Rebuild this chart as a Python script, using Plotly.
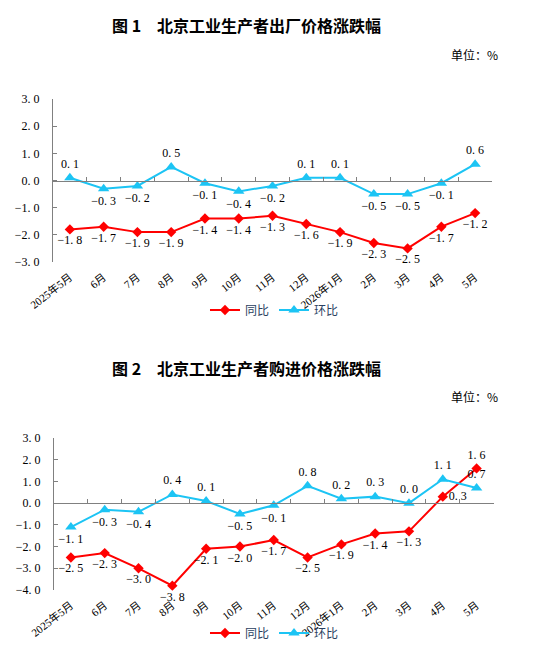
import plotly.graph_objects as go

months = ["2025年5月", "6月", "7月", "8月", "9月", "10月", "11月", "12月",
          "2026年1月", "2月", "3月", "4月", "5月"]

# Figure 1: 出厂价格
ppi_yoy = [-1.8, -1.7, -1.9, -1.9, -1.4, -1.4, -1.3, -1.6, -1.9, -2.3, -2.5, -1.7, -1.2]
ppi_mom = [0.1, -0.3, -0.2, 0.5, -0.1, -0.4, -0.2, 0.1, 0.1, -0.5, -0.5, -0.1, 0.6]

# Figure 2: 购进价格
ipi_yoy = [-2.5, -2.3, -3.0, -3.8, -2.1, -2.0, -1.7, -2.5, -1.9, -1.4, -1.3, 0.3, 1.6]
ipi_mom = [-1.1, -0.3, -0.4, 0.4, 0.1, -0.5, -0.1, 0.8, 0.2, 0.3, 0.0, 1.1, 0.7]

y1_ticks = [3.0, 2.0, 1.0, 0.0, -1.0, -2.0, -3.0]
y2_ticks = [3.0, 2.0, 1.0, 0.0, -1.0, -2.0, -3.0, -4.0]

RED = "#FF0000"
BLUE = "#1CC4F4"
GRAY = "#808080"
NUM_FONT = "Liberation Serif, DejaVu Serif, serif"
CJK_FONT = "Liberation Serif, Noto Sans CJK SC, serif"


def fmt(v):
    s = f"{v:.1f}".replace(".", ". ")
    return s.replace("-", "−")


W, H = 533, 653
# domains (paper fractions)
x1_dom = [53 / W, 492 / W]
y1_dom = [1 - 262 / H, 1 - 99 / H]
x2_dom = [54 / W, 493.5 / W]
y2_dom = [1 - 590 / H, 1 - 438 / H]

fig = go.Figure()


def add_chart(yoy, mom, xa, ya, xz, legend, yoy_pos, mom_pos):
    fig.add_trace(go.Scatter(
        x=months, y=yoy, name="同比", mode="lines+markers+text",
        line=dict(color=RED, width=2),
        marker=dict(symbol="diamond", size=8, color=RED),
        text=[fmt(v) for v in yoy], textposition=yoy_pos,
        textfont=dict(family=NUM_FONT, size=12, color="#000000"),
        xaxis=xa, yaxis=ya, legend=legend, cliponaxis=False))
    fig.add_trace(go.Scatter(
        x=months, y=mom, name="环比", mode="lines+markers+text",
        line=dict(color=BLUE, width=2),
        marker=dict(symbol="triangle-up", size=10, color=BLUE),
        text=[fmt(v) for v in mom], textposition=mom_pos,
        textfont=dict(family=NUM_FONT, size=12, color="#000000"),
        xaxis=xa, yaxis=ya, legend=legend, cliponaxis=False))
    # invisible trace carrying the zero-line axis
    fig.add_trace(go.Scatter(
        x=months, y=[None] * len(months), mode="lines", showlegend=False,
        hoverinfo="skip", xaxis=xz, yaxis=ya))


pos_mom1 = ["top center" if v > 0 else "bottom center" for v in ppi_mom]
pos_yoy1 = ["bottom center"] * len(ppi_yoy)
pos_mom2 = ["top center" if v >= 0 else "bottom center" for v in ipi_mom]
pos_yoy2 = ["bottom center" if v < 0 else "top center" for v in ipi_yoy]
pos_yoy2[11] = "middle right"

add_chart(ppi_yoy, ppi_mom, "x", "y", "x3", "legend", pos_yoy1, pos_mom1)
add_chart(ipi_yoy, ipi_mom, "x2", "y2", "x4", "legend2", pos_yoy2, pos_mom2)

cat_range = [-0.5, len(months) - 0.5]


def xmain(dom, anchor):
    return dict(domain=dom, anchor=anchor, type="category", categoryorder="array",
                categoryarray=months, range=cat_range, showline=False, ticks="",
                showgrid=False, zeroline=False, tickangle=-38, automargin=False,
                ticklabelstandoff=6,
                tickfont=dict(family=CJK_FONT, size=11, color="#000000"))


def xzero(dom, over, pos):
    return dict(domain=dom, overlaying=over, anchor="free", position=pos,
                type="category", categoryorder="array", categoryarray=months,
                range=cat_range, showline=True, linecolor=GRAY, linewidth=1,
                ticks="inside", ticklen=4, tickcolor=GRAY, tickson="boundaries",
                showticklabels=False, showgrid=False, zeroline=False, automargin=False)


def yax(dom, anchor, ticks, rng):
    return dict(domain=dom, anchor=anchor, range=rng, tickvals=ticks,
                ticktext=[fmt(v) for v in ticks], showline=True, linecolor=GRAY,
                linewidth=1, ticks="inside", ticklen=4, tickcolor=GRAY,
                showgrid=False, zeroline=False, ticklabelstandoff=10, automargin=False,
                tickfont=dict(family=NUM_FONT, size=12, color="#000000"))


zero1 = y1_dom[0] + (0 - (-3)) / 6 * (y1_dom[1] - y1_dom[0])
zero2 = y2_dom[0] + (0 - (-4)) / 7 * (y2_dom[1] - y2_dom[0])

fig.update_layout(
    width=W, height=H, margin=dict(l=0, r=0, t=0, b=0, autoexpand=False),
    paper_bgcolor="white", plot_bgcolor="white",
    xaxis=xmain(x1_dom, "y"),
    xaxis2=xmain(x2_dom, "y2"),
    xaxis3=xzero(x1_dom, "x", zero1),
    xaxis4=xzero(x2_dom, "x2", zero2),
    yaxis=yax(y1_dom, "x", y1_ticks, [-3, 3]),
    yaxis2=yax(y2_dom, "x2", y2_ticks, [-4, 3]),
    legend=dict(orientation="h", x=0.515, xanchor="center", y=1 - 310 / H,
                yanchor="middle", font=dict(family="Noto Sans CJK SC", size=12),
                itemwidth=30, bgcolor="rgba(0,0,0,0)"),
    legend2=dict(orientation="h", x=0.515, xanchor="center", y=1 - 633 / H,
                 yanchor="middle", font=dict(family="Noto Sans CJK SC", size=12),
                 itemwidth=30, bgcolor="rgba(0,0,0,0)"),
    showlegend=True,
)

titles = [("图 1　北京工业生产者出厂价格涨跌幅", 25), ("图 2　北京工业生产者购进价格涨跌幅", 368)]
for t, yy in titles:
    fig.add_annotation(text=f"<b>{t}</b>", xref="paper", yref="paper", x=110 / W,
                       y=1 - yy / H, xanchor="left", yanchor="middle", showarrow=False,
                       font=dict(family="Noto Sans CJK SC", size=16, color="#000000"))
for yy in [55, 396]:
    fig.add_annotation(text="单位：%", xref="paper", yref="paper", x=500 / W,
                       y=1 - yy / H, xanchor="right", yanchor="middle", showarrow=False,
                       font=dict(family="Noto Sans CJK SC", size=12, color="#000000"))

fig.write_html("out.html")
